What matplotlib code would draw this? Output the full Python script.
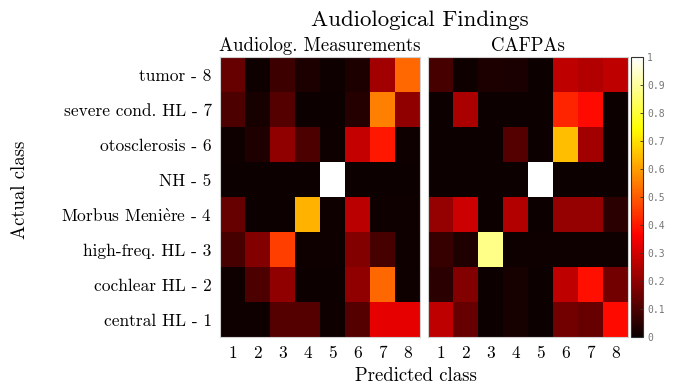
import matplotlib
matplotlib.use("Agg")
import matplotlib.pyplot as plt
import numpy as np

plt.rcParams['mathtext.fontset'] = 'cm'
plt.rcParams['font.family'] = ['cmr10', 'DejaVu Serif']
plt.rcParams['axes.formatter.use_mathtext'] = True

class_labels = ["central HL - 1", "cochlear HL - 2", "high-freq. HL - 3",
                r"Morbus Meni$\mathrm{\grave{e}}$re - 4", "NH - 5",
                "otosclerosis - 6", "severe cond. HL - 7", "tumor - 8"]
pred_labels = ["1", "2", "3", "4", "5", "6", "7", "8"]

# rows: actual class 1..8, columns: predicted class 1..8
audiolog = [
    [0.01, 0.01, 0.11, 0.11, 0.01, 0.11, 0.33, 0.33],   # central HL
    [0.01, 0.10, 0.20, 0.005, 0.005, 0.20, 0.52, 0.01],  # cochlear HL
    [0.09, 0.18, 0.46, 0.01, 0.01, 0.18, 0.09, 0.01],    # high-freq HL
    [0.14, 0.005, 0.005, 0.63, 0.01, 0.265, 0.01, 0.01], # Meniere
    [0.005, 0.005, 0.005, 0.005, 1.0, 0.005, 0.005, 0.005],  # NH
    [0.01, 0.035, 0.20, 0.10, 0.01, 0.28, 0.40, 0.01],   # otosclerosis
    [0.10, 0.02, 0.11, 0.005, 0.005, 0.04, 0.555, 0.20], # severe cond. HL
    [0.14, 0.01, 0.075, 0.03, 0.01, 0.03, 0.23, 0.52],   # tumor
]
cafpas = [
    [0.27, 0.14, 0.005, 0.02, 0.005, 0.16, 0.14, 0.38],
    [0.05, 0.18, 0.005, 0.02, 0.005, 0.27, 0.39, 0.16],
    [0.07, 0.035, 0.88, 0.01, 0.01, 0.01, 0.01, 0.01],
    [0.21, 0.29, 0.005, 0.25, 0.005, 0.21, 0.21, 0.05],
    [0.005, 0.005, 0.005, 0.005, 1.0, 0.005, 0.005, 0.005],
    [0.005, 0.005, 0.005, 0.11, 0.005, 0.65, 0.23, 0.005],
    [0.005, 0.24, 0.005, 0.005, 0.005, 0.42, 0.38, 0.005],
    [0.09, 0.01, 0.03, 0.025, 0.005, 0.27, 0.25, 0.27],
]
cbar_ticks = [0, 0.1, 0.2, 0.3, 0.4, 0.5, 0.6, 0.7, 0.8, 0.9, 1]

W, H = 680, 385
fig = plt.figure(figsize=(W / 100, H / 100), dpi=100)

def rect(x0, y0, x1, y1):
    return [x0 / W, 1 - y1 / H, (x1 - x0) / W, (y1 - y0) / H]

ax1 = fig.add_axes(rect(220, 57, 420, 337))
ax2 = fig.add_axes(rect(428, 57, 628, 337))
cax = fig.add_axes(rect(631, 57, 643, 337))

for ax, data, sub in [(ax1, audiolog, "Audiolog. Measurements"), (ax2, cafpas, "CAFPAs")]:
    im = ax.imshow(np.array(data), cmap='hot', vmin=0, vmax=1, origin='lower',
                   aspect='auto', interpolation='nearest')
    ax.set_xticks(range(8))
    ax.set_xticklabels(pred_labels, fontsize=12.5)
    ax.tick_params(axis='both', length=0, pad=6)
    for s in ax.spines.values():
        s.set_color('#d0d0d0')
        s.set_linewidth(0.8)
    ax.set_title(sub, fontsize=13.5, pad=4)

ax1.set_yticks(range(8))
ax1.set_yticklabels(class_labels, fontsize=12.5)
ax1.tick_params(axis='y', pad=6)
ax2.set_yticks([])

cb = fig.colorbar(im, cax=cax, ticks=cbar_ticks)
cb.outline.set_edgecolor('#333333')
cb.outline.set_linewidth(0.8)
cax.tick_params(direction='in', length=2.5, width=0.6, color='#333333', labelsize=7,
                labelcolor='#777777', pad=3)
cax.set_yticklabels([f"{t:g}" for t in cbar_ticks], family='DejaVu Sans Mono')

fig.text(420 / W, 1 - 20 / H, "Audiological Findings", ha='center', va='center', fontsize=16.5)
fig.text(416 / W, 1 - 376 / H, "Predicted class", ha='center', va='center', fontsize=13.5)
fig.text(20 / W, 1 - 190 / H, "Actual class", ha='center', va='center', fontsize=13.5, rotation=90)

fig.savefig("out.png", dpi=100)
